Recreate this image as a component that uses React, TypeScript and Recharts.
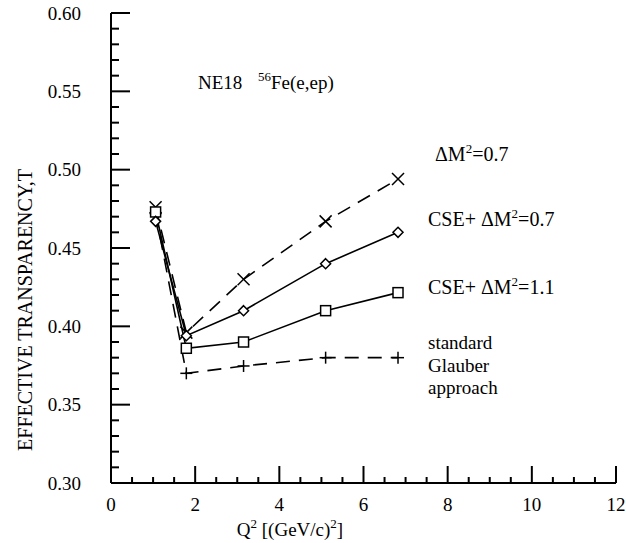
import { LineChart, Line, XAxis, YAxis } from "recharts";

// Q^2 points (GeV/c)^2 and transparency values
const qValues = [1.06, 1.79, 3.15, 5.1, 6.82];
const dm07 = [0.476, 0.396, 0.43, 0.467, 0.494];
const cse07 = [0.467, 0.394, 0.41, 0.44, 0.46];
const cse11 = [0.473, 0.386, 0.39, 0.41, 0.4215];
const glauber = [0.472, 0.37, 0.3747, 0.38, 0.38];

const xMajorTicks = [0, 2, 4, 6, 8, 10, 12];
const yMajorTicks = [0.3, 0.35, 0.4, 0.45, 0.5, 0.55, 0.6];

const data = qValues.map((q, i) => ({
  q,
  dm07: dm07[i],
  cse07: cse07[i],
  cse11: cse11[i],
  glauber: glauber[i],
}));

// minor ticks: every 0.5 on x, every 0.01 on y
const xTicks: number[] = [];
for (let k = 0; k <= 24; k++) xTicks.push(k / 2);
const yTicks: number[] = [];
for (let k = 30; k <= 60; k++) yTicks.push(k / 100);

const isMajorX = (v: number) => xMajorTicks.some((t) => Math.abs(t - v) < 1e-6);
const isMajorY = (v: number) => yMajorTicks.some((t) => Math.abs(t - v) < 1e-6);

const W = 626;
const H = 543;
const PL = 111;
const PR = 616;
const PT = 13;
const PB = 483;
const SERIF = '"Liberation Serif", "Times New Roman", serif';
const INK = "#000";
const TICK_W = 2;

const labelStyle = { fontFamily: SERIF, fontSize: 19, fill: INK };

function LeftTick(props: any) {
  const { y, payload } = props;
  const major = isMajorY(payload.value);
  return (
    <g>
      <path d={`M${PL},${y}H${PL + (major ? 19 : 8)}`} stroke={INK} strokeWidth={TICK_W} fill="none" />
      {major && (
        <text x={81} y={y} textAnchor="end" dominantBaseline="central" style={labelStyle}>
          {payload.value.toFixed(2)}
        </text>
      )}
    </g>
  );
}

function RightTick(props: any) {
  const { y, payload } = props;
  const major = isMajorY(payload.value);
  return <path d={`M${PR},${y}H${PR - (major ? 19 : 8)}`} stroke={INK} strokeWidth={TICK_W} fill="none" />;
}

function BottomTick(props: any) {
  const { x, payload } = props;
  const major = isMajorX(payload.value);
  return (
    <g>
      <path d={`M${x},${PB}V${PB - (major ? 17 : 6)}`} stroke={INK} strokeWidth={TICK_W} fill="none" />
      {major && (
        <text x={x} y={504} textAnchor="middle" dominantBaseline="central" style={labelStyle}>
          {payload.value}
        </text>
      )}
    </g>
  );
}

function TopTick(props: any) {
  const { x, payload } = props;
  const major = isMajorX(payload.value);
  return <path d={`M${x},${PT}V${PT + (major ? 16 : 6)}`} stroke={INK} strokeWidth={TICK_W} fill="none" />;
}

const markerStroke = { stroke: INK, strokeWidth: 1.5, fill: "none" };

const crossDot = (p: any) => (
  <g key={`x${p.index}`}>
    <line x1={p.cx - 6} y1={p.cy - 6} x2={p.cx + 6} y2={p.cy + 6} {...markerStroke} />
    <line x1={p.cx - 6} y1={p.cy + 6} x2={p.cx + 6} y2={p.cy - 6} {...markerStroke} />
  </g>
);
const diamondDot = (p: any) => (
  <path
    key={`d${p.index}`}
    d={`M${p.cx},${p.cy - 5} L${p.cx + 5},${p.cy} L${p.cx},${p.cy + 5} L${p.cx - 5},${p.cy} Z`}
    stroke={INK}
    strokeWidth={1.5}
    fill="#fff"
  />
);
const squareDot = (p: any) => (
  <rect key={`s${p.index}`} x={p.cx - 5} y={p.cy - 5} width={10} height={10} stroke={INK} strokeWidth={1.5} fill="#fff" />
);
const plusDot = (p: any) => (
  <g key={`p${p.index}`}>
    <line x1={p.cx - 6} y1={p.cy} x2={p.cx + 6} y2={p.cy} {...markerStroke} />
    <line x1={p.cx} y1={p.cy - 6} x2={p.cx} y2={p.cy + 6} {...markerStroke} />
  </g>
);

const axisLine = { stroke: INK, strokeWidth: 2 };

export default function App() {
  return (
    <div style={{ position: "absolute", left: 0, top: 0, width: W, height: H, background: "#fff" }}>
      <LineChart width={W} height={H} data={data} margin={{ top: PT, right: W - PR, left: 0, bottom: 0 }}>
        <XAxis
          xAxisId={0}
          dataKey="q"
          type="number"
          domain={[0, 12]}
          ticks={xTicks}
          interval={0}
          height={H - PB}
          tick={<BottomTick />}
          tickLine={false}
          axisLine={axisLine}
        />
        <XAxis
          xAxisId="top"
          orientation="top"
          dataKey="q"
          type="number"
          domain={[0, 12]}
          ticks={xTicks}
          interval={0}
          height={0}
          tick={<TopTick />}
          tickLine={false}
          axisLine={axisLine}
        />
        <YAxis
          yAxisId={0}
          type="number"
          domain={[0.3, 0.6]}
          ticks={yTicks}
          interval={0}
          width={PL}
          tick={<LeftTick />}
          tickLine={false}
          axisLine={axisLine}
        />
        <YAxis
          yAxisId="right"
          orientation="right"
          type="number"
          domain={[0.3, 0.6]}
          ticks={yTicks}
          interval={0}
          width={0}
          tick={<RightTick />}
          tickLine={false}
          axisLine={axisLine}
        />
        <Line type="linear" dataKey="glauber" stroke={INK} strokeWidth={1.6} strokeDasharray="14 9" dot={plusDot} isAnimationActive={false} />
        <Line type="linear" dataKey="dm07" stroke={INK} strokeWidth={1.6} strokeDasharray="14 9" dot={crossDot} isAnimationActive={false} />
        <Line type="linear" dataKey="cse11" stroke={INK} strokeWidth={1.6} dot={squareDot} isAnimationActive={false} />
        <Line type="linear" dataKey="cse07" stroke={INK} strokeWidth={1.6} dot={diamondDot} isAnimationActive={false} />
      </LineChart>
      <svg
        width={W}
        height={H}
        style={{ position: "absolute", left: 0, top: 0, pointerEvents: "none", fontFamily: SERIF, fill: INK }}
      >
        <text x={198} y={89} fontSize={19}>
          NE18
        </text>
        <text x={258} y={89} fontSize={19}>
          <tspan fontSize={13} dy={-8}>56</tspan>
          <tspan dy={8}>Fe(e,ep)</tspan>
        </text>
        <text x={435} y={161} fontSize={20}>
          ΔM<tspan fontSize={13} dy={-8}>2</tspan>
          <tspan dy={8}>=0.7</tspan>
        </text>
        <text x={428} y={226} fontSize={20}>
          CSE+ ΔM<tspan fontSize={13} dy={-8}>2</tspan>
          <tspan dy={8}>=0.7</tspan>
        </text>
        <text x={428} y={294} fontSize={20}>
          CSE+ ΔM<tspan fontSize={13} dy={-8}>2</tspan>
          <tspan dy={8}>=1.1</tspan>
        </text>
        <text x={428} y={349} fontSize={19}>standard</text>
        <text x={428} y={372} fontSize={19}>Glauber</text>
        <text x={428} y={394} fontSize={19}>approach</text>
        <text x={290} y={536} fontSize={19} textAnchor="middle">
          Q<tspan fontSize={13} dy={-8}>2</tspan>
          <tspan dy={8}> [(GeV/c)</tspan>
          <tspan fontSize={13} dy={-8}>2</tspan>
          <tspan dy={8}>]</tspan>
        </text>
        <text transform="translate(25,310) rotate(-90)" textAnchor="middle" dominantBaseline="central" fontSize={20}>
          EFFECTIVE TRANSPARENCY,T
        </text>
      </svg>
    </div>
  );
}
